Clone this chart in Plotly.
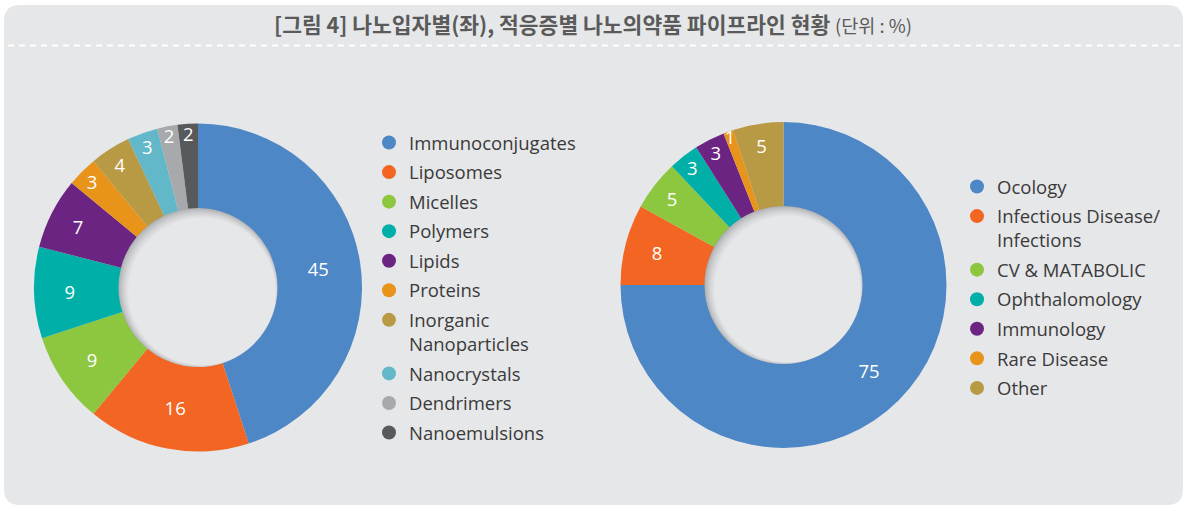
import plotly.graph_objects as go

W, H = 1186, 506

# ---- data ----
left_labels = ["Immunoconjugates", "Liposomes", "Micelles", "Polymers", "Lipids",
               "Proteins", "Inorganic<br>Nanoparticles", "Nanocrystals", "Dendrimers",
               "Nanoemulsions"]
left_values = [45, 16, 9, 9, 7, 3, 4, 3, 2, 2]
left_colors = ["#4e87c6", "#f26522", "#8dc63f", "#00b0a8", "#6c2483",
               "#e8941a", "#b89a45", "#62b7c9", "#a7a9ac", "#58595b"]

right_labels = ["Ocology", "Infectious Disease/<br>Infections", "CV & MATABOLIC",
                "Ophthalomology", "Immunology", "Rare Disease", "Other"]
right_values = [75, 8, 5, 3, 3, 1, 5]
right_colors = ["#4e87c6", "#f26522", "#8dc63f", "#00b0a8", "#6c2483",
                "#e8941a", "#b89a45"]

title_main = "[그림 4] 나노입자별(좌), 적응증별 나노의약품 파이프라인 현황"
title_unit = "(단위 : %)"

BG = "#e6e7e9"
HOLE = 0.485
LEG_FS = 18.5

def px_x(v):
    return v / W

def px_y(v):
    return 1 - v / H

left_dom = dict(x=[px_x(34), px_x(362)], y=[px_y(452), px_y(123)])
right_dom = dict(x=[px_x(620), px_x(947)], y=[px_y(448), px_y(122)])

fig = go.Figure()

pie_common = dict(
    hole=HOLE, sort=False, direction="clockwise", rotation=0,
    textinfo="value", textposition="inside", insidetextorientation="horizontal",
    textfont=dict(color="white", size=18.5, family="Open Sans"),
    showlegend=False, hoverinfo="label+value",
)

fig.add_trace(go.Pie(labels=left_labels, values=left_values, domain=left_dom,
                     marker=dict(colors=left_colors, line=dict(width=0)), **pie_common))
fig.add_trace(go.Pie(labels=right_labels, values=right_values, domain=right_dom,
                     marker=dict(colors=right_colors, line=dict(width=0)), **pie_common))

# legend entries as circle markers (each its own group so spacing can be set)
for i, (lab, col) in enumerate(zip(left_labels, left_colors)):
    fig.add_trace(go.Scatter(x=[None], y=[None], mode="markers", name=lab,
                             marker=dict(color=col, size=14), legend="legend",
                             legendgroup=f"L{i}", hoverinfo="skip"))
for i, (lab, col) in enumerate(zip(right_labels, right_colors)):
    fig.add_trace(go.Scatter(x=[None], y=[None], mode="markers", name=lab,
                             marker=dict(color=col, size=14), legend="legend2",
                             legendgroup=f"R{i}", hoverinfo="skip"))

shapes = []
# card background (rounded rectangle) in pixel-derived paper coords
x0, x1, y0, y1, r = 4, 1183, 5, 505, 16
path = (f"M {px_x(x0 + r)},{px_y(y0)} L {px_x(x1 - r)},{px_y(y0)} "
        f"Q {px_x(x1)},{px_y(y0)} {px_x(x1)},{px_y(y0 + r)} "
        f"L {px_x(x1)},{px_y(y1 - r)} Q {px_x(x1)},{px_y(y1)} {px_x(x1 - r)},{px_y(y1)} "
        f"L {px_x(x0 + r)},{px_y(y1)} Q {px_x(x0)},{px_y(y1)} {px_x(x0)},{px_y(y1 - r)} "
        f"L {px_x(x0)},{px_y(y0 + r)} Q {px_x(x0)},{px_y(y0)} {px_x(x0 + r)},{px_y(y0)} Z")
shapes.append(dict(type="path", xref="paper", yref="paper", path=path,
                   fillcolor=BG, line=dict(width=0), layer="below"))
# dashed separator under title
shapes.append(dict(type="line", xref="paper", yref="paper",
                   x0=px_x(8), x1=px_x(1183), y0=px_y(45.5), y1=px_y(45.5),
                   line=dict(color="white", width=2, dash="6px,5px"), layer="below"))

# inner shadow of each hole
def hole_shadow(dom):
    cx = (dom["x"][0] + dom["x"][1]) / 2 * W
    cy = (1 - (dom["y"][0] + dom["y"][1]) / 2) * H
    R = min((dom["x"][1] - dom["x"][0]) * W, (dom["y"][1] - dom["y"][0]) * H) / 2
    rh = R * HOLE + 1
    dark = (160, 161, 164)
    light = (230, 231, 233)
    n = 12
    out = []
    for i in range(n + 1):
        t = i / n
        c = tuple(round(dark[k] + (light[k] - dark[k]) * (t ** 0.6)) for k in range(3))
        off = 4 * t
        rr = rh - 7 * t
        ccx, ccy = cx + off, cy + off
        out.append(dict(type="circle", xref="paper", yref="paper",
                        x0=px_x(ccx - rr), x1=px_x(ccx + rr),
                        y0=px_y(ccy + rr), y1=px_y(ccy - rr),
                        fillcolor="rgb(%d,%d,%d)" % c, line=dict(width=0), layer="below"))
    return out

shapes += hole_shadow(left_dom)
shapes += hole_shadow(right_dom)

legend_common = dict(
    font=dict(family="Open Sans", size=LEG_FS, color="#3a3a3a"),
    bgcolor="rgba(0,0,0,0)", xanchor="left", yanchor="top",
    itemsizing="trace", valign="top", tracegroupgap=2.5,
)

fig.update_layout(
    width=W, height=H,
    margin=dict(l=0, r=0, t=0, b=0),
    paper_bgcolor="white", plot_bgcolor="rgba(0,0,0,0)",
    xaxis=dict(visible=False), yaxis=dict(visible=False),
    shapes=shapes,
    showlegend=True,
    legend=dict(x=px_x(369), y=px_y(124), **legend_common),
    legend2=dict(x=px_x(957), y=px_y(168), **legend_common),
    uniformtext=dict(minsize=18.5, mode="show"),
    annotations=[dict(
        text=f"<b>{title_main}</b> <span style='font-size:18.5px;font-weight:normal'>{title_unit}</span>",
        x=0.5, y=px_y(23.5), xref="paper", yref="paper", showarrow=False,
        xanchor="center", yanchor="middle",
        font=dict(family="Noto Sans CJK KR", size=21.5, color="#5a5a5a"),
    )],
)

fig.write_html("out.html", config={"displayModeBar": False},
               post_script="document.body.style.margin='0px';")
